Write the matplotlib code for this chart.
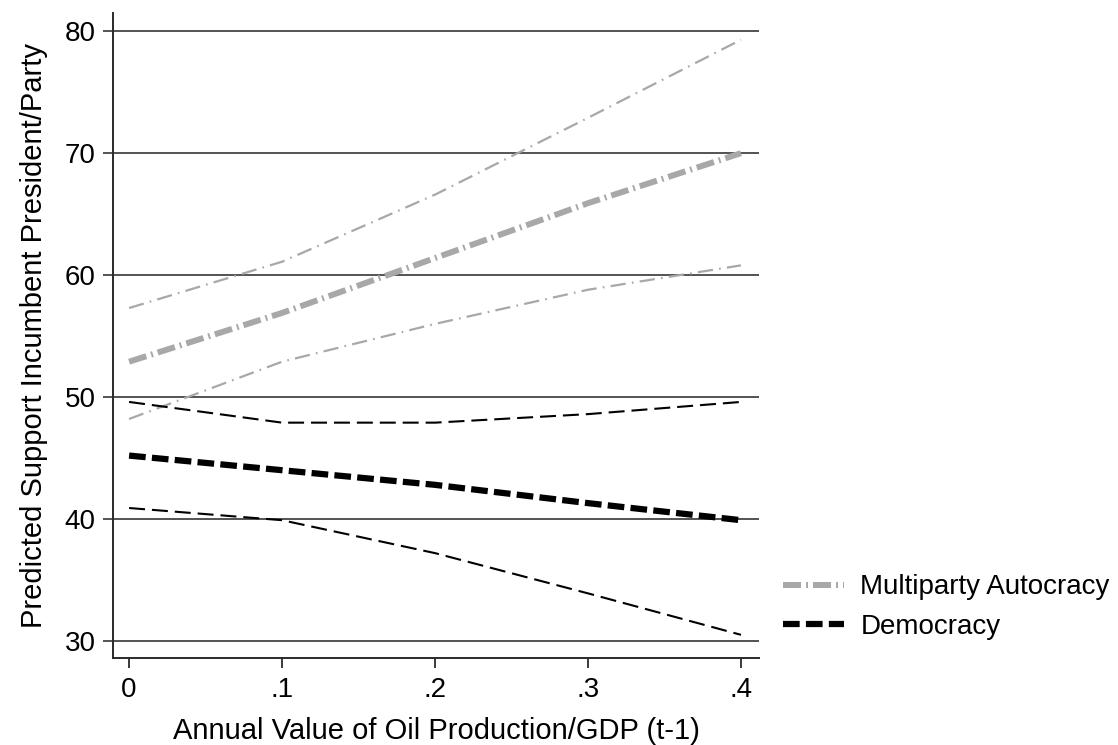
import numpy as np
import matplotlib
matplotlib.use("Agg")
import matplotlib.pyplot as plt

plt.rcParams['font.family'] = ['Liberation Sans', 'DejaVu Sans']
plt.rcParams['lines.scale_dashes'] = False

# oil production / GDP (t-1)
oil = [0, 0.1, 0.2, 0.3, 0.4]

# multiparty autocracy: prediction and confidence band
auto_pred = [52.9, 56.9, 61.4, 65.9, 70.0]
auto_hi = [57.3, 61.1, 66.6, 72.9, 79.3]
auto_lo = [48.2, 52.9, 56.0, 58.8, 60.8]

# democracy: prediction and confidence band
dem_pred = [45.2, 44.0, 42.8, 41.3, 39.9]
dem_hi = [49.6, 47.9, 47.9, 48.6, 49.6]
dem_lo = [40.9, 39.9, 37.2, 33.9, 30.5]

xticks = [0, 0.1, 0.2, 0.3, 0.4]
xtick_labels = ['0', '.1', '.2', '.3', '.4']
yticks = [30, 40, 50, 60, 70, 80]

GREY = '#a8a8a8'
GRID = '#454545'
AX = '#2a2a2a'
FS_TICK = 20
FS_LAB = 21
FS_LEG = 20

fig = plt.figure(figsize=(11.18, 7.45), dpi=100)
ax = fig.add_axes([0.1011, 0.1168, 0.5778, 0.8658])

dash_auto = (0, (13, 3.6, 1.4, 3.6))
dash_auto_thin = (0, (11, 4.5, 1.2, 4.5))
dash_dem = (0, (12, 4.5))
dash_dem_thin = (0, (11.5, 5))

for yv in yticks:
    ax.axhline(yv, color=GRID, lw=1.3, zorder=1)

ax.plot(oil, auto_hi, color=GREY, lw=1.6, linestyle=dash_auto_thin, zorder=3)
ax.plot(oil, auto_lo, color=GREY, lw=1.6, linestyle=dash_auto_thin, zorder=3)
ax.plot(oil, auto_pred, color=GREY, lw=4.3, linestyle=dash_auto, zorder=3,
        label='Multiparty Autocracy')
ax.plot(oil, dem_hi, color='black', lw=1.5, linestyle=dash_dem_thin, zorder=3)
ax.plot(oil, dem_lo, color='black', lw=1.5, linestyle=dash_dem_thin, zorder=3)
ax.plot(oil, dem_pred, color='black', lw=4.5, linestyle=dash_dem, zorder=3,
        label='Democracy')

ax.set_xlim(-0.0105, 0.4118)
ax.set_ylim(28.6, 81.5)
ax.set_xticks(xticks)
ax.set_xticklabels(xtick_labels)
ax.set_yticks(yticks)

ax.spines['right'].set_visible(False)
ax.spines['top'].set_visible(False)
for s in ['left', 'bottom']:
    ax.spines[s].set_color(AX)
    ax.spines[s].set_linewidth(1.4)

ax.tick_params(axis='x', direction='out', length=7.5, width=1.3, color=AX,
               labelsize=FS_TICK, pad=6)
ax.tick_params(axis='y', direction='out', length=7.2, width=1.3, color=GRID,
               labelsize=FS_TICK, pad=5.5)

ax.set_xlabel('Annual Value of Oil Production/GDP (t-1)', fontsize=FS_LAB, labelpad=10)
ax.set_ylabel('Predicted Support Incumbent President/Party', fontsize=FS_LAB, labelpad=12)

leg = ax.legend(loc='center left', bbox_to_anchor=(0.7, 0.185),
                bbox_transform=fig.transFigure, frameon=False, fontsize=FS_LEG,
                handlelength=2.2, handletextpad=0.6, labelspacing=0.5,
                borderpad=0, borderaxespad=0)

fig.savefig('out.png', dpi=100)
